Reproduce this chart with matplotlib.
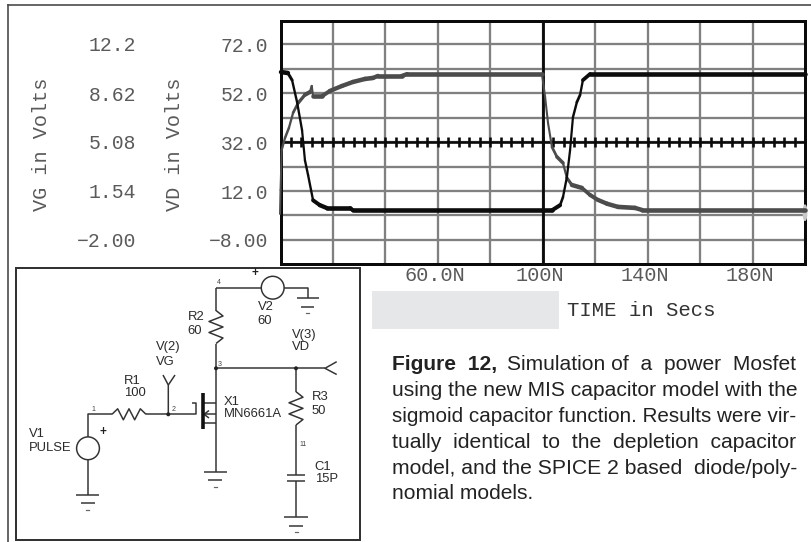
import numpy as np
import matplotlib
matplotlib.use("Agg")
import matplotlib.pyplot as plt
from matplotlib.collections import LineCollection
from matplotlib.patches import Circle, Rectangle, Ellipse
from matplotlib.transforms import ScaledTranslation

# ---------- data ----------
vd_time = [0.4, 3.0, 4.6, 6.5, 8.4, 9.5, 10.7, 12.6, 15.2, 17.9, 26.7, 27.8, 103.6, 106.7, 107.8,
           109.3, 110.5, 111.6, 113.1, 114.3, 115.4, 118.1, 200]
vd_volts = [60.7, 60.3, 57.4, 48.4, 36.9, 24.6, 18.5, 8.2, 6.2, 5.0, 5.0, 4.1, 4.1, 6.2, 9.5,
            17.7, 28.7, 42.2, 48.4, 51.3, 57.4, 59.9, 59.9]
vg_time = [0.0, 0.2, 0.65, 1.9, 3.4, 5.0, 6.9, 9.5, 11.4, 12.1, 12.6, 16, 19, 23.6, 27.8, 32.4,
           35.4, 37.3, 46.5, 48.4, 99.8, 101, 102.1, 103.6, 105.5, 107.8, 109.3, 111.2, 115,
           118.1, 121.1, 124.6, 128.8, 135.2, 137.9, 200]
vg_volts = [-0.14, 1.6, 4.5, 5.37, 6.1, 7.2, 7.9, 8.5, 8.7, 9.14, 8.4, 8.4, 8.78, 9.14, 9.43, 9.65,
            9.72, 9.87, 9.87, 10.0, 10.0, 8.34, 6.46, 4.72, 4.0, 3.56, 2.47, 1.96, 1.75,
            1.24, 0.88, 0.6, 0.37, 0.3, 0.15, 0.15]
time_ticks = list(range(20, 200, 20))
time_labels = {60: "60.0N", 100: "100N", 140: "140N", 180: "180N"}
vd_ticks = [72, 62, 52, 42, 32, 22, 12, 2, -8]
vd_labels = {72: "72.0", 52: "52.0", 32: "32.0", 12: "12.0", -8: "\u22128.00"}
vg_ticks = [12.2, 8.62, 5.08, 1.54, -2.0]
vg_labels = ["12.2", "8.62", "5.08", "1.54", "\u22122.00"]
caption_lines = ["using the new MIS capacitor model with the",
                 "sigmoid capacitor function. Results were vir-",
                 "tually identical to the depletion capacitor",
                 "model, and the SPICE 2 based diode/poly-"]

W, H = 812, 542
PX = 0.72  # points per pixel at dpi 100
fig = plt.figure(figsize=(W / 100, H / 100), dpi=100, facecolor="white")
MONO = "Liberation Mono"
SANS = "Liberation Sans"
TXT = "#5a5a5a"

# page layer in pixel coordinates
pg = fig.add_axes([0, 0, 1, 1], zorder=0)
pg.set_xlim(0, W); pg.set_ylim(H, 0); pg.axis("off")

# plot
L, R, T, B = 281, 805, 21, 264.3
ax = fig.add_axes([L / W, 1 - B / H, (R - L) / W, (B - T) / H], zorder=2)
ax.set_xlim(0.38, 200)
ax.set_ylim(-18.0, 81.6)
ax.patch.set_alpha(0)
for s in ax.spines.values():
    s.set_linewidth(3 * PX); s.set_color("#0a0a0a"); s.set_zorder(3)
ax.set_xticks(time_ticks)
ax.set_xticklabels([time_labels.get(t, "") for t in time_ticks],
                   fontfamily=MONO, fontsize=14.6, color=TXT)
ax.set_yticks(vd_ticks)
ax.set_yticklabels([vd_labels.get(v, "") for v in vd_ticks],
                   fontfamily=MONO, fontsize=14.2, color=TXT)
ax.tick_params(axis="x", length=0, pad=1.5)
ax.tick_params(axis="y", length=0, pad=13 * PX)
off = ScaledTranslation(-3 * PX / 72, 0, fig.dpi_scale_trans)
for lab in ax.get_xticklabels():
    lab.set_transform(lab.get_transform() + off)
ax.grid(True, color="#808080", lw=2.3 * PX, zorder=1)
ax.set_axisbelow(True)

# centre axes with tick marks
ax.axhline(32, color="#0a0a0a", lw=2.6 * PX, zorder=2)
ax.axvline(100, color="#0a0a0a", lw=2.8 * PX, zorder=2)
ax.vlines(np.arange(4, 197, 4), 30, 34, color="#0a0a0a", lw=2.6 * PX, zorder=2)

# VG second scale, on the far left
ax2 = fig.add_axes(ax.get_position(), zorder=1)
ax2.set_xlim(ax.get_xlim())
ax2.set_ylim(-3.79, 13.85)
ax2.patch.set_alpha(0)
for s in ax2.spines.values():
    s.set_visible(False)
ax2.set_xticks([])
ax2.set_yticks(vg_ticks)
ax2.set_yticklabels(vg_labels, fontfamily=MONO, fontsize=14.2, color=TXT)
ax2.tick_params(axis="y", length=0, pad=145 * PX)


def pen_line(a, to_data, x, y, color, tall, wide, z):
    """Screen-pen look: thick on flat runs, thin on steep ones."""
    pts = to_data.transform(np.column_stack([x, y]))
    d = np.diff(pts, axis=0)
    n = np.hypot(d[:, 0], d[:, 1])
    widths = np.hypot(tall * d[:, 0] / n, wide * d[:, 1] / n) * PX
    data = np.column_stack([x, y])
    segs = np.stack([data[:-1], data[1:]], axis=1)
    a.add_collection(LineCollection(segs, colors=color, linewidths=widths, capstyle="round",
                                    zorder=z, clip_on=False))


fig.canvas.draw()
# VG drawn on the main axes' pixels via its own scale, over the frame
ax3 = fig.add_axes(ax.get_position(), zorder=3)
ax3.set_xlim(ax.get_xlim()); ax3.set_ylim(ax2.get_ylim()); ax3.axis("off")
ax4 = fig.add_axes(ax.get_position(), zorder=4)
ax4.set_xlim(ax.get_xlim()); ax4.set_ylim(ax.get_ylim()); ax4.axis("off")
pen_line(ax3, ax3.transData, vg_time, vg_volts, "#4c4c4c", 4.6, 2.0, 5)
pen_line(ax4, ax4.transData, vd_time, vd_volts, "#0c0c0c", 4.6, 2.2, 6)
ax3.add_patch(Ellipse((200, vg_volts[-1] - 0.2), 1.3, 1.1, color="#c8c8c8", zorder=4, clip_on=False))

# axis titles
for x, s in [(41.7, "VG in Volts"), (175, "VD in Volts")]:
    pg.text(x, 144, s, rotation=90, ha="center", va="center", family=MONO, fontsize=14.6, color=TXT)
pg.add_patch(Rectangle((372, 291), 187, 38, fc="#e6e7e8", ec="none"))
pg.text(567, 311, "TIME in Secs", ha="left", va="center", family=MONO, fontsize=14.9, color="#333333")

# page rules
rule = dict(color="#444444", lw=1.6 * PX)
pg.plot([8.5, 8.5], [5, 542], **rule)
pg.plot([8.5, 812], [5, 5], **rule)

# caption
renderer = fig.canvas.get_renderer()


def fit_line(s, x0, x1, y, size=15.1, weight="normal", justify=True):
    t = pg.text(x0, y, s, ha="left", va="center_baseline", family=SANS, fontsize=size,
                fontweight=weight, color="#222222")
    if not justify:
        return t
    w = t.get_window_extent(renderer).width
    target = x1 - x0
    words = s.split(" ")
    gaps = len(words) - 1
    sp_t = pg.text(0, 0, "n n", family=SANS, fontsize=size, alpha=0)
    sp_n = pg.text(0, 0, "nn", family=SANS, fontsize=size, alpha=0)
    sp = sp_t.get_window_extent(renderer).width - sp_n.get_window_extent(renderer).width
    sp_t.remove(); sp_n.remove()
    extra = int(max(target - w, 0) / sp + 0.3)
    out = words[0]
    for i, word in enumerate(words[1:]):
        k = (extra * (i + 1)) // gaps - (extra * i) // gaps
        out += " " * (1 + k) + word
    t.set_text(out)
    w = t.get_window_extent(renderer).width
    t.set_fontsize(size * target / w)
    return t


fit_line("Figure  12,", 392, 496, 363, weight="bold", justify=False)
fit_line("Simulation of a power Mosfet", 507, 797, 363)
for i, s in enumerate(caption_lines):
    fit_line(s, 392, 797, 389 + i * 25.7)
fit_line("nomial models.", 392, 534, 491.8, justify=False)

# ---------- schematic (drawn in page pixels) ----------
pg.add_patch(Rectangle((16, 267.5), 344, 272.5, fc="white", ec="#333333", lw=2 * PX, zorder=1))
WC = "#333333"
sch = dict(color=WC, lw=1.5 * PX, zorder=2, solid_capstyle="butt")


def wire(*p):
    xs, ys = zip(*p)
    pg.plot(xs, ys, **sch)


def zig_h(x0, x1, y, amp=5.5, n=6):
    xs = np.linspace(x0, x1, n + 1)
    ys = [y] + [y + (-amp if i % 2 == 0 else amp) for i in range(n - 1)] + [y]
    pg.plot(xs, ys, **sch)


def zig_v(x, y0, y1, amp=7, n=6):
    ys = np.linspace(y0, y1, n + 1)
    xs = [x] + [x + (amp if i % 2 == 0 else -amp) for i in range(n - 1)] + [x]
    pg.plot(xs, ys, **sch)


def ground(x, y, w1=11.5, w2=7, dy=8, dm=15):
    pg.plot([x - w1, x + w1], [y, y], **sch)
    pg.plot([x - w2, x + w2], [y + dy, y + dy], **sch)
    pg.plot([x - 1.5, x + 1.5], [y + dm, y + dm], color="#666666", lw=1.2 * PX, zorder=2)


def dot(x, y):
    pg.add_patch(Circle((x, y), 2, fc="#222222", ec="none", zorder=3))


def source(x, y):
    pg.add_patch(Circle((x, y), 11.4, fc="white", ec=WC, lw=1.5 * PX, zorder=2))


# V1 and R1
source(88, 448.3)
wire((88, 437), (88, 414.3), (112, 414.3))
zig_h(112, 146, 414.3)
wire((88, 459.7), (88, 495))
ground(88, 495)
# gate
wire((146, 414.3), (196, 414.3), (196, 402.7), (192.5, 402.7))
dot(168.3, 414.3)
wire((168.3, 414.3), (168.3, 385), (163, 375))
wire((168.3, 385), (175, 375))
pg.plot([202.7, 202.7], [393, 428.5], color="#111111", lw=3.6 * PX, zorder=3, solid_capstyle="butt")
# drain, source
wire((216, 288), (216, 310.5))
zig_v(216, 310.5, 343.5)
wire((216, 343.5), (216, 471.7))
wire((203, 402.7), (216, 402.7))
wire((203, 423.3), (216, 423.3))
wire((204, 414.3), (216, 414.3))
wire((209, 410.5), (204, 414.3), (209, 418))
ground(215.3, 471.7)
# V2
wire((216, 288), (262, 288))
source(272.7, 287.7)
wire((284, 288), (308.3, 288), (308.3, 298.3))
ground(307.7, 298.3, w1=11, w2=6.7, dy=8.4)
# VD
dot(216, 368.3)
dot(296, 368.3)
wire((216, 368.3), (325, 368.3))
wire((336.7, 361.7), (325, 368.3), (336.7, 374.5))
wire((296, 368.3), (296, 391.7))
zig_v(296, 391.7, 425)
wire((296, 425), (296, 475))
pg.plot([287.3, 305.3], [475, 475], **sch)
pg.plot([287.3, 305.3], [480.7, 480.7], **sch)
wire((296, 480.7), (296, 517.3))
ground(296.3, 517.3, w1=12, w2=7, dy=8.4)

labels = [("R2", 187.5, 317), ("60", 187, 331), ("V2", 257.5, 306.7), ("60", 257, 320.7),
          ("V(3)", 291.5, 335), ("VD", 291.5, 347), ("V(2)", 156, 347), ("VG", 156, 361.7),
          ("R1", 124, 380.7), ("100", 124, 393.5), ("X1", 224, 401.7), ("MN6661A", 223.5, 414.3),
          ("R3", 312, 397), ("50", 312, 410.7), ("V1", 29, 434), ("PULSE", 29, 448.3),
          ("C1", 314, 466.7), ("15P", 315, 479)]
for s, x, y in labels:
    pg.text(x, y, s, ha="left", va="center", family=SANS, fontsize=9.4, color="#2a2a2a", zorder=4)
for x, y in [(102.7, 432), (255, 272.7)]:
    pg.text(x, y, "+", ha="center", va="center", family=SANS, fontsize=8.5, fontweight="bold",
            color="#222222", zorder=4)
for s, x, y in [("1", 93, 409.7), ("2", 173.5, 409.7), ("3", 220, 364), ("4", 219.3, 282.7), ("11", 303, 444.3)]:
    pg.text(x, y, s, ha="center", va="center", family=SANS, fontsize=5, color="#444444", zorder=4)

fig.savefig("out.png", dpi=100, facecolor="white")
